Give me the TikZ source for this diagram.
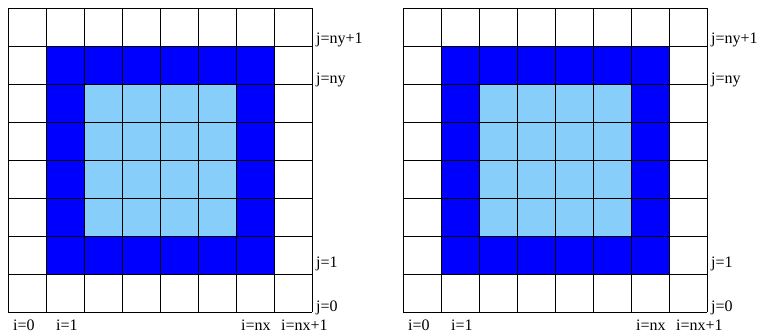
\documentclass[tikz,border=0pt]{standalone}
\usepackage{fontspec}
\setmainfont{Liberation Serif}
\definecolor{ringblue}{RGB}{0,0,255}
\definecolor{coreblue}{RGB}{135,206,250}
\begin{document}
\begin{tikzpicture}[x=1pt,y=-1pt,
  gridline/.style={draw=black,line width=0.9pt},
  lbl/.style={anchor=base west,inner sep=0pt,font=\fontsize{16}{18}\selectfont}]
\useasboundingbox (0,0) rectangle (762,332);
\foreach \ox/\tag in {8/a,403/b}{
  \begin{scope}[shift={(\ox,8)}]
    \fill[ringblue] (38,38) rectangle (266,266);
    \fill[coreblue] (76,76) rectangle (228,228);
    \foreach \k in {0,...,8}{
      \draw[gridline] (\k*38,0) -- (\k*38,304);
      \draw[gridline] (0,\k*38) -- (304,\k*38);
    }
    \node[lbl] (jtop\tag) at (308,35) {j=ny+1};
    \node[lbl] (jny\tag) at (308,75) {j=ny};
    \node[lbl] (jone\tag) at (308,259) {j=1};
    \node[lbl] (jzero\tag) at (308,303) {j=0};
    \node[lbl] (izero\tag) at (5,322) {i=0};
    \node[lbl] (ione\tag) at (48,322) {i=1};
    \node[lbl] (inx\tag) at (233,322) {i=nx};
    \node[lbl] (inxp\tag) at (273,322) {i=nx+1};
  \end{scope}
}
\end{tikzpicture}
\end{document}
